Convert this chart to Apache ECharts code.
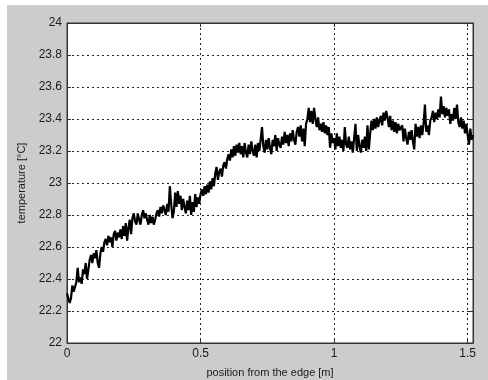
<!DOCTYPE html>
<html>
<head>
<meta charset="utf-8">
<script src="https://cdn.jsdelivr.net/npm/echarts@6/dist/echarts.min.js"></script>
<style>
  html, body { margin: 0; padding: 0; background: #ffffff; }
  #panel { position: absolute; left: 7px; top: 5px; width: 481px; height: 375px; background: #cccccc; }
  #chart { position: absolute; left: 0; top: 0; width: 488px; height: 380px; }
</style>
</head>
<body>
<div id="panel"></div>
<div id="chart"></div>
<script>
// Sampling step along the position axis [m]
const xStep = 0.005;

// Temperature readings [°C], one per sample, from the edge outwards
const temperature = [
  22.31, 22.30, 22.25, 22.28, 22.36, 22.32, 22.35, 22.38, 22.47, 22.38,
  22.41, 22.37, 22.46, 22.43, 22.50, 22.40, 22.39, 22.52, 22.55, 22.50,
  22.56, 22.53, 22.58, 22.50, 22.47, 22.56, 22.60, 22.57, 22.63, 22.65,
  22.61, 22.67, 22.63, 22.66, 22.60, 22.68, 22.70, 22.64, 22.69, 22.66,
  22.71, 22.65, 22.73, 22.67, 22.75, 22.64, 22.72, 22.77, 22.68, 22.78,
  22.81, 22.76, 22.74, 22.81, 22.77, 22.74, 22.80, 22.83, 22.78, 22.81,
  22.77, 22.74, 22.80, 22.75, 22.79, 22.74, 22.77, 22.81, 22.83, 22.79,
  22.85, 22.81, 22.86, 22.83, 22.80, 22.87, 22.82, 22.98, 22.87, 22.78,
  22.82, 22.94, 22.85, 22.95, 22.87, 22.92, 22.83, 22.90, 22.85, 22.81,
  22.89, 22.83, 22.92, 22.80, 22.88, 22.82, 22.93, 22.85, 22.91, 22.87,
  22.93, 22.96, 22.92, 22.98, 22.93, 22.99, 22.94, 23.01, 22.96, 23.03,
  22.98, 23.06, 23.10, 23.02, 23.07, 23.09, 23.04, 23.11, 23.13, 23.09,
  23.15, 23.18, 23.14, 23.21, 23.16, 23.23, 23.17, 23.24, 23.19, 23.25,
  23.18, 23.23, 23.16, 23.25, 23.19, 23.16, 23.24, 23.18, 23.26, 23.20,
  23.17, 23.24, 23.16, 23.25, 23.20, 23.27, 23.35, 23.23, 23.19, 23.27,
  23.21, 23.28, 23.22, 23.18, 23.27, 23.23, 23.30, 23.20, 23.28, 23.24,
  23.22, 23.29, 23.24, 23.32, 23.25, 23.30, 23.23, 23.31, 23.26, 23.33,
  23.27, 23.24, 23.32, 23.35, 23.29, 23.36, 23.26, 23.34, 23.23, 23.37,
  23.40, 23.47, 23.38, 23.45, 23.37, 23.47, 23.40, 23.35, 23.41, 23.33,
  23.37, 23.32, 23.38, 23.31, 23.36, 23.30, 23.35, 23.22, 23.31, 23.25,
  23.28, 23.21, 23.31, 23.23, 23.29, 23.22, 23.27, 23.20, 23.35, 23.24,
  23.22, 23.29, 23.21, 23.26, 23.19, 23.28, 23.37, 23.20, 23.30, 23.23,
  23.19, 23.27, 23.22, 23.29, 23.20, 23.36, 23.21, 23.31, 23.39, 23.33,
  23.40, 23.34, 23.41, 23.35, 23.39, 23.42, 23.36, 23.44, 23.39, 23.45,
  23.41, 23.35, 23.42, 23.33, 23.39, 23.32, 23.38, 23.31, 23.37, 23.33,
  23.32, 23.36, 23.26, 23.34, 23.28, 23.24, 23.32, 23.27, 23.33, 23.26,
  23.21, 23.37, 23.29, 23.35, 23.28, 23.36, 23.30, 23.37, 23.49, 23.32,
  23.36, 23.30, 23.39, 23.41, 23.45, 23.38, 23.44, 23.40, 23.46, 23.41,
  23.54, 23.43, 23.48, 23.41, 23.47, 23.42, 23.46, 23.37, 23.43, 23.39,
  23.47, 23.40, 23.49, 23.38, 23.35, 23.41, 23.34, 23.39, 23.31, 23.37,
  23.30, 23.24, 23.34, 23.27, 23.30
];

// Axis ranges and tick spacing
const xRange = [0, 1.52];
const xTickStep = 0.5;
const yRange = [22, 24];
const yTickStep = 0.2;

const xLabel = 'position from the edge [m]';
const yLabel = 'temperature [°C]';

const points = temperature.map((t, i) => [+(i * xStep).toFixed(3), t]);

const font = 'Liberation Sans, Arial, sans-serif';
const ink = '#1a1a1a';

const tickLabel = (step) => (v) => {
  const r = Math.round(v / step) * step;
  return Math.abs(v - r) < 1e-6 ? String(+v.toFixed(3)) : '';
};

const chart = echarts.init(document.getElementById('chart'), null, { renderer: 'canvas' });

chart.setOption({
  animation: false,
  backgroundColor: 'transparent',
  grid: {
    left: 67, top: 23, right: 15, bottom: 37,
    containLabel: false,
    outerBoundsMode: 'none',
    show: true,
    backgroundColor: '#ffffff',
    borderColor: '#333333',
    borderWidth: 1
  },
  xAxis: [{
    type: 'value',
    min: xRange[0], max: xRange[1], interval: xTickStep,
    name: xLabel,
    nameLocation: 'middle',
    nameGap: 24,
    nameTextStyle: { fontFamily: font, fontSize: 11, color: ink },
    axisLine: { show: true, onZero: false, lineStyle: { color: '#333333', width: 1 } },
    axisTick: { show: true, inside: true, length: 4, lineStyle: { color: '#333333' } },
    axisLabel: {
      fontFamily: font, fontSize: 12, color: ink, margin: 5,
      formatter: tickLabel(xTickStep)
    },
    splitLine: { show: true, lineStyle: { color: '#222222', width: 1, type: [2, 3] } }
  }, {
    type: 'value', position: 'top',
    min: xRange[0], max: xRange[1], interval: xTickStep,
    axisLine: { show: true, onZero: false, lineStyle: { color: '#333333', width: 1 } },
    axisTick: { show: true, inside: true, length: 4, lineStyle: { color: '#333333' } },
    axisLabel: { show: false },
    splitLine: { show: false }
  }],
  yAxis: [{
    type: 'value',
    min: yRange[0], max: yRange[1], interval: yTickStep,
    name: yLabel,
    nameLocation: 'middle',
    nameGap: 33,
    nameRotate: 90,
    nameTextStyle: { fontFamily: font, fontSize: 11, color: ink },
    axisLine: { show: true, onZero: false, lineStyle: { color: '#333333', width: 1 } },
    axisTick: { show: true, inside: true, length: 4, lineStyle: { color: '#333333' } },
    axisLabel: {
      fontFamily: font, fontSize: 12, color: ink, margin: 5,
      formatter: tickLabel(yTickStep)
    },
    splitLine: { show: true, lineStyle: { color: '#222222', width: 1, type: [2, 3] } }
  }, {
    type: 'value', position: 'right',
    min: yRange[0], max: yRange[1], interval: yTickStep,
    axisLine: { show: true, onZero: false, lineStyle: { color: '#333333', width: 1 } },
    axisTick: { show: true, inside: true, length: 4, lineStyle: { color: '#333333' } },
    axisLabel: { show: false },
    splitLine: { show: false }
  }],
  series: [{
    type: 'line',
    xAxisIndex: 0,
    yAxisIndex: 0,
    data: points,
    showSymbol: false,
    symbol: 'none',
    lineStyle: { color: '#000000', width: 2.2 },
    z: 5
  }]
});
</script>
</body>
</html>
